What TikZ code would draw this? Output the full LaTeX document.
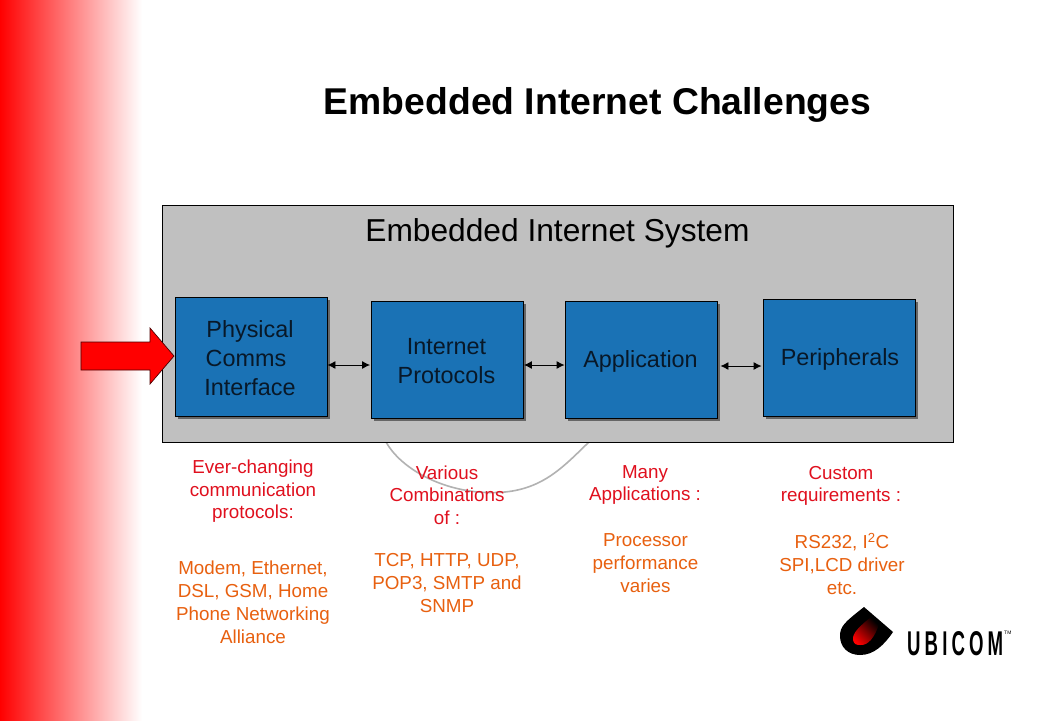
\documentclass[tikz,border=0pt]{standalone}
\usepackage{fontspec}
\setmainfont{Liberation Sans}
\usepackage{graphicx}
\usetikzlibrary{shadows,arrows.meta}
\definecolor{blockblue}{HTML}{1A72B5}
\definecolor{panelgrey}{HTML}{C0C0C0}
\definecolor{redtxt}{HTML}{E0101E}
\definecolor{orangetxt}{HTML}{E8600F}
\definecolor{boxtxt}{HTML}{081828}
\definecolor{bandmid}{HTML}{FF9070}
\tikzset{
  blockbox/.style={draw=black,line width=0.9pt,fill=blockblue,minimum width=152pt,inner sep=0pt,
    drop shadow={shadow xshift=3pt,shadow yshift=-3pt,fill=black!60,opacity=1}},
  blocktext/.style={inner sep=0pt,text=boxtxt,align=center,font=\fontsize{23.4}{29}\selectfont},
  linkarrow/.style={{Latex[length=8pt,width=8pt]}-{Latex[length=8pt,width=8pt]},line width=0.9pt},
  redlabel/.style={text=redtxt,align=center,inner sep=0pt,anchor=center,font=\fontsize{18.8}{22.6}\selectfont},
  orangelabel/.style={text=orangetxt,align=center,inner sep=0pt,anchor=center,font=\fontsize{18.8}{23}\selectfont},
}
\begin{document}
\begin{tikzpicture}[x=1pt,y=-1pt]
\useasboundingbox (0,0) rectangle (1040,720);
\fill[white] (0,0) rectangle (1040,720);
% red band
\shade[left color=red,middle color=bandmid,right color=white] (0,0) rectangle (142,720);
% grey curve
\draw[draw=black!30,line width=1.6pt] (385,440) .. controls (400,470) and (450,497) .. (505,492) .. controls (545,488) and (565,465) .. (590,441);
% title
\node[inner sep=0pt] (title) at (597.5,105) {\fontsize{37.3}{40}\selectfont\bfseries Embedded Internet Challenges};
% panel
\node[draw=black,line width=0.8pt,fill=panelgrey,minimum width=791pt,minimum height=237pt,inner sep=0pt] (panel) at (558,324) {};
\node[inner sep=0pt] (paneltitle) at (557.5,233) {\fontsize{31.7}{34}\selectfont Embedded Internet System};
% blocks
\node[blockbox,minimum height=119pt] (phys) at (251,356.5) {};
\node[blockbox,minimum height=117pt] (inet) at (447,359.5) {};
\node[blockbox,minimum height=117pt] (app) at (641,359.5) {};
\node[blockbox,minimum height=117pt] (peri) at (839,357.5) {};
\node[blocktext] (phystext) at (250,358) {Physical\\\mbox{Comms\kern8pt}\\Interface};
\node[blocktext] (inettext) at (446.5,361) {Internet\\Protocols};
\node[blocktext] (apptext) at (640.5,361) {Application};
\node[blocktext] (peritext) at (840,359) {Peripherals};
% links
\draw[linkarrow] ([yshift=-8.5pt]phys.east) -- ([yshift=-5.5pt,xshift=-0.5pt]inet.west);
\draw[linkarrow] ([yshift=-5.5pt,xshift=0.5pt]inet.east) -- ([yshift=-5.5pt]app.west);
\draw[linkarrow] ([yshift=-6.5pt,xshift=3pt]app.east) -- ([yshift=-8.5pt,xshift=-1pt]peri.west);
% input arrow
\draw[draw=black!70!red,line width=0.7pt,fill=red] (81,342) -- (150,342) -- (150,328) -- (174,356) -- (150,384) -- (150,370) -- (81,370) -- cycle;
% labels
\node[redlabel] (l1a) at (253,491.5) {Ever-changing\\communication\\protocols:};
\node[orangelabel] (l1b) at (253,602) {Modem, Ethernet,\\DSL, GSM, Home\\Phone Networking\\Alliance};
\node[redlabel] (l2a) at (447,495) {Various\\Combinations\\of :};
\node[orangelabel] (l2b) at (447,583.5) {TCP, HTTP, UDP,\\POP3, SMTP and\\SNMP};
\node[redlabel] (l3a) at (645,485) {Many\\Applications :};
\node[orangelabel] (l3b) at (645.5,563) {Processor\\performance\\varies};
\node[redlabel] (l4a) at (841,486) {Custom\\requirements :};
\node[orangelabel] (l4b) at (842,564) {RS232, I\textsuperscript{2}C\\SPI,LCD driver\\etc.};
% logo
\fill[black] (864,607) -- (893,632) .. controls (884,645) and (874,655) .. (860,655) .. controls (848,655) and (840,647) .. (840,636) .. controls (840,626) and (845,622) .. cycle;
\shade[top color=black,bottom color=red,shading angle=-45] (853,640) .. controls (852,633) and (860,626) .. (871,617) -- (879,624) .. controls (875,637) and (868,646) .. (860,645) .. controls (856,645) and (854,644) .. (853,640) -- cycle;
\node[inner sep=0pt,anchor=west] (ubicom) at (907,644) {\resizebox{96pt}{24pt}{\addfontfeatures{LetterSpace=22}\fontsize{24}{24}\selectfont\bfseries UBICOM}};
\node[inner sep=0pt,anchor=west] (tm) at (1004,633) {\fontsize{5}{5}\selectfont TM};
\end{tikzpicture}
\end{document}
